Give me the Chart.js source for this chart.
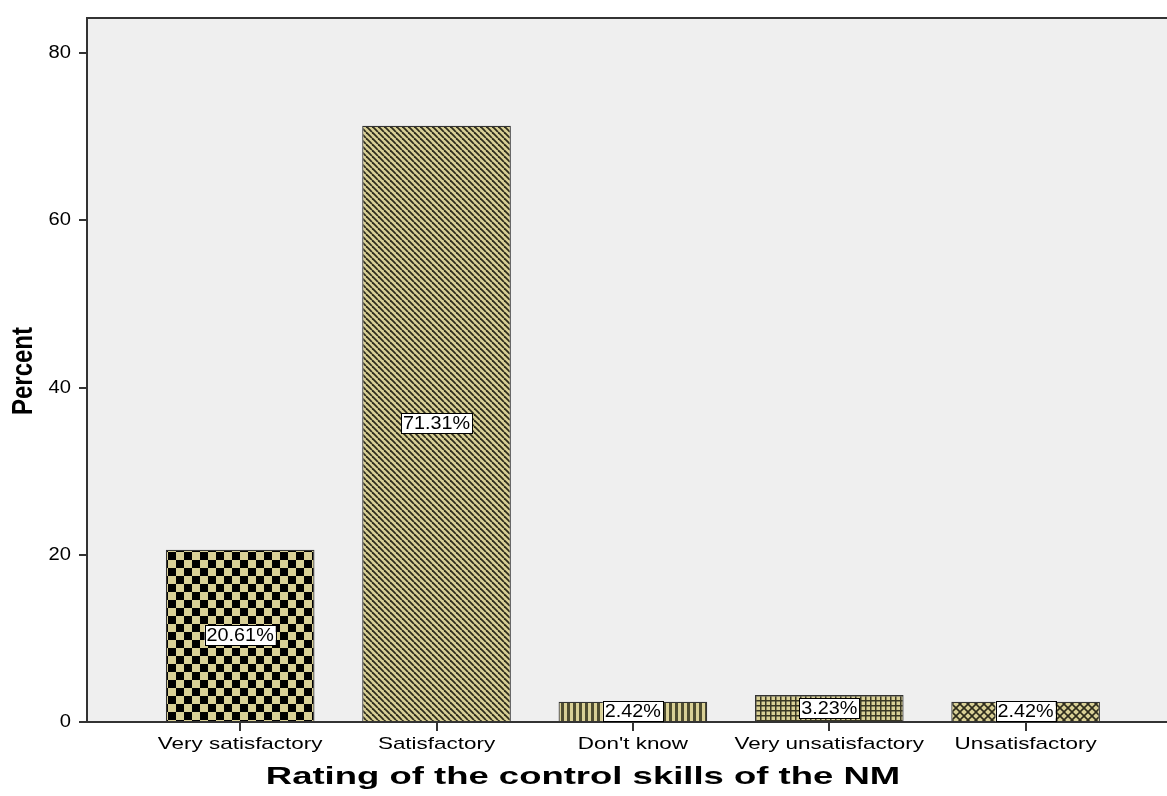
<!DOCTYPE html>
<html>
<head>
<meta charset="utf-8">
<script src="https://cdn.jsdelivr.net/npm/chart.js@4"></script>
<style>
  html, body { margin: 0; padding: 0; background: #ffffff; }
  canvas { display: block; }
</style>
</head>
<body>
<canvas id="grafico" width="1167" height="796"></canvas>
<script>
// categorias e percentuais
var categorias = ["Very satisfactory", "Satisfactory", "Don't know", "Very unsatisfactory", "Unsatisfactory"];
var percentuais = [20.61, 71.31, 2.42, 3.23, 2.42];
var ticksY = [0, 20, 40, 60, 80];

var FONTE = "'Liberation Sans', Arial, sans-serif";
var CAQUI = '#d9d096';

// texto esticado na horizontal
function textoLargo(ctx, texto, x, y, sx, font, align) {
    ctx.save();
    ctx.font = font;
    ctx.textAlign = align || 'center';
    ctx.textBaseline = 'middle';
    ctx.fillStyle = '#000';
    ctx.translate(x, y);
    ctx.scale(sx, 1);
    ctx.fillText(texto, 0, 0);
    ctx.restore();
}

// hachuras de cada barra
function padrao(tam, desenha) {
    var c = document.createElement('canvas');
    c.width = tam; c.height = tam;
    var g = c.getContext('2d');
    g.fillStyle = CAQUI;
    g.fillRect(0, 0, tam, tam);
    desenha(g, tam);
    return document.getElementById('grafico').getContext('2d').createPattern(c, 'repeat');
}

var xadrez = padrao(16, function(g) {
    g.fillStyle = '#000';
    g.fillRect(0, 0, 8, 8);
    g.fillRect(8, 8, 8, 8);
});
var diagonal = padrao(6, function(g, t) {
    g.strokeStyle = '#2e2c1c';
    g.lineWidth = 1.8;
    for (var k = -1; k <= 1; k++) {
        g.beginPath(); g.moveTo(k * t, 0); g.lineTo(k * t + t, t); g.stroke();
    }
});
var vertical = padrao(6, function(g) {
    g.fillStyle = '#4e4c30';
    g.fillRect(3, 0, 3, 6);
});
var grade = padrao(5, function(g) {
    g.fillStyle = '#3a3824';
    g.fillRect(0, 0, 5, 1.5);
    g.fillRect(0, 0, 1.5, 5);
});
var cruzado = padrao(8, function(g, t) {
    g.strokeStyle = '#2e2c1c';
    g.lineWidth = 1.6;
    g.beginPath(); g.moveTo(0, 0); g.lineTo(t, t); g.stroke();
    g.beginPath(); g.moveTo(t, 0); g.lineTo(0, t); g.stroke();
});

// fundo cinza da área e linha superior
var fundo = {
    id: 'fundo',
    beforeDraw: function(chart) {
        var a = chart.chartArea, ctx = chart.ctx;
        ctx.save();
        ctx.fillStyle = '#efefef';
        ctx.fillRect(a.left, a.top, a.right - a.left, a.bottom - a.top);
        ctx.strokeStyle = '#333';
        ctx.lineWidth = 2;
        ctx.beginPath(); ctx.moveTo(a.left, a.top); ctx.lineTo(a.right, a.top); ctx.stroke();
        ctx.restore();
    }
};

// rótulos dos eixos e das barras
var rotulos = {
    id: 'rotulos',
    afterDraw: function(chart) {
        var ctx = chart.ctx, sx = chart.scales.x, sy = chart.scales.y;
        ticksY.forEach(function(v) {
            textoLargo(ctx, String(v), sx.left - 16, sy.getPixelForValue(v), 1.12, '18px ' + FONTE, 'right');
        });
        categorias.forEach(function(c, i) {
            textoLargo(ctx, c, sx.getPixelForValue(i), sy.bottom + 22, 1.32, '17px ' + FONTE, 'center');
        });
        textoLargo(ctx, 'Rating of the control skills of the NM', 583, 777, 1.52, 'bold 24px ' + FONTE, 'center');

        ctx.save();
        ctx.font = 'bold 24px ' + FONTE;
        ctx.textAlign = 'center';
        ctx.textBaseline = 'middle';
        ctx.fillStyle = '#000';
        ctx.translate(24, 371);
        ctx.rotate(-Math.PI / 2);
        ctx.scale(1, 1.2);
        ctx.fillText('Percent', 0, 0);
        ctx.restore();

        var meta = chart.getDatasetMeta(0);
        meta.data.forEach(function(bar, i) {
            var txt = percentuais[i].toFixed(2) + '%';
            var cy = (bar.y + bar.base) / 2;
            ctx.save();
            ctx.font = '18px ' + FONTE;
            var w = ctx.measureText(txt).width * 1.1 + 4;
            ctx.fillStyle = '#fff';
            ctx.strokeStyle = '#000';
            ctx.lineWidth = 1;
            ctx.fillRect(bar.x - w / 2, cy - 10, w, 20);
            ctx.strokeRect(Math.round(bar.x - w / 2) + 0.5, Math.round(cy - 10) + 0.5, Math.round(w), 20);
            ctx.restore();
            textoLargo(ctx, txt, bar.x, cy + 1, 1.1, '18px ' + FONTE, 'center');
        });
    }
};

var ctx = document.getElementById('grafico').getContext('2d');
var grafico = new Chart(ctx, {
    type: 'bar',
    data: {
        datasets: [{
            data: percentuais.map(function(v, i) { return { x: i, y: v }; }),
            backgroundColor: [xadrez, diagonal, vertical, grade, cruzado],
            borderColor: '#333',
            borderWidth: 1.2,
            barPercentage: 0.757,
            categoryPercentage: 1
        }]
    },
    options: {
        responsive: false,
        animation: false,
        layout: { padding: { left: 79, top: 18, right: 0, bottom: 65 } },
        plugins: {
            legend: { display: false },
            tooltip: { enabled: false }
        },
        scales: {
            x: {
                type: 'linear',
                offset: false,
                min: -0.78,
                max: 4.72,
                afterBuildTicks: function(s) {
                    s.ticks = [0, 1, 2, 3, 4].map(function(v) { return { value: v }; });
                },
                ticks: { display: false },
                grid: { offset: false, drawOnChartArea: false, drawTicks: true, tickLength: 9, color: '#333', lineWidth: 2 },
                border: { display: true, color: '#333', width: 2 }
            },
            y: {
                min: 0,
                max: 84.2,
                afterBuildTicks: function(s) {
                    s.ticks = ticksY.map(function(v) { return { value: v }; });
                },
                ticks: { display: false },
                grid: { drawOnChartArea: false, drawTicks: true, tickLength: 8, color: '#333', lineWidth: 2 },
                border: { display: true, color: '#333', width: 2 }
            }
        }
    },
    plugins: [fundo, rotulos]
});
</script>
</body>
</html>
